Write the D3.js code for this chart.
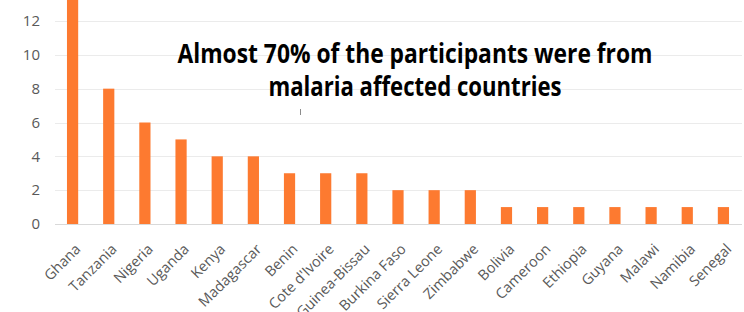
<html>
<head>
<script src="https://cdnjs.cloudflare.com/ajax/libs/d3/7.8.5/d3.min.js"></script>
<style>
  body { margin: 0; background: #fff; }
  text { font-family: "Open Sans", sans-serif; }
</style>
</head>
<body>
<div class="chart"></div>
<script>
const width = 744;
const height = 312;

// data
const countries = ["Ghana", "Tanzania", "Nigeria", "Uganda", "Kenya", "Madagascar", "Benin",
  "Cote d'Ivoire", "Guinea-Bissau", "Burkina Faso", "Sierra Leone", "Zimbabwe", "Bolivia",
  "Cameroon", "Ethiopia", "Guyana", "Malawi", "Namibia", "Senegal"];
const participants = [14, 8, 6, 5, 4, 4, 3, 3, 3, 2, 2, 2, 1, 1, 1, 1, 1, 1, 1];
const yTicks = [0, 2, 4, 6, 8, 10, 12];
const titleLines = ["Almost 70% of the participants were from", "malaria affected countries"];

const svg = d3.select(".chart").append("svg")
  .attr("width", width)
  .attr("height", height);

const x = d3.scaleBand()
  .domain(countries)
  .range([54.5, 741.5])
  .paddingInner(0.69)
  .paddingOuter(0.345);

const y = d3.scaleLinear()
  .domain([0, 12])
  .range([224, 21]);

// gridlines
svg.append("g")
  .selectAll("line")
  .data(yTicks)
  .enter()
  .append("line")
  .attr("x1", 55)
  .attr("x2", 742)
  .attr("y1", d => Math.round(y(d)) + 0.5)
  .attr("y2", d => Math.round(y(d)) + 0.5)
  .attr("stroke", d => d === 0 ? "#d9d9d9" : "#ebebeb")
  .attr("stroke-width", 1);

// y labels
const yAxis = svg.append("g")
  .attr("transform", "translate(40,0)")
  .call(d3.axisLeft(y).tickValues(yTicks).tickSize(0).tickPadding(0));
yAxis.select(".domain").remove();
yAxis.selectAll("text")
  .attr("fill", "#595959")
  .style("font-size", "15px");

// bars
svg.append("g")
  .selectAll("rect")
  .data(countries)
  .enter()
  .append("rect")
  .attr("x", d => x(d))
  .attr("width", x.bandwidth())
  .attr("y", (d, i) => y(participants[i]))
  .attr("height", (d, i) => y(0) - y(participants[i]))
  .attr("fill", "#fd7a30");

// country labels
const xAxis = svg.append("g")
  .call(d3.axisBottom(x).tickSize(0).tickPadding(0));
xAxis.select(".domain").remove();
xAxis.selectAll("text")
  .attr("fill", "#595959")
  .style("font-size", "14.5px")
  .attr("text-anchor", "end")
  .attr("y", 0)
  .attr("dy", 0)
  .attr("transform", "translate(9,250) rotate(-45)");

// small stray mark in the original
svg.append("line")
  .attr("x1", 300.5).attr("x2", 300.5)
  .attr("y1", 109).attr("y2", 115)
  .attr("stroke", "#8c8c8c")
  .attr("stroke-width", 1);

// title
const titleWidths = [475, 293];
svg.append("g")
  .selectAll("text")
  .data(titleLines)
  .enter()
  .append("text")
  .attr("x", 415)
  .attr("y", (d, i) => 63 + i * 33)
  .attr("text-anchor", "middle")
  .attr("font-weight", "bold")
  .attr("textLength", (d, i) => titleWidths[i])
  .attr("lengthAdjust", "spacingAndGlyphs")
  .style("font-size", "26px")
  .attr("fill", "#000")
  .text(d => d);
</script>
</body>
</html>
